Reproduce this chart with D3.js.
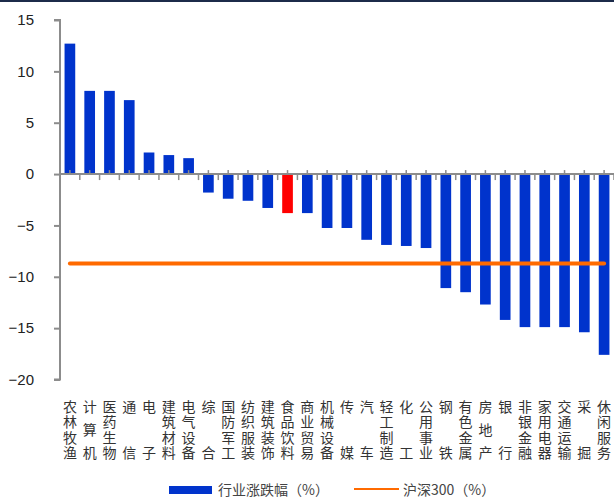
<!DOCTYPE html>
<html>
<head>
<meta charset="utf-8">
<script src="https://cdn.jsdelivr.net/npm/d3@7"></script>
<style>
  body { margin: 0; background: #fff; }
  svg { display: block; }
</style>
</head>
<body>
<div id="chart"></div>
<script>
const width = 614,
      height = 500;

// industry names and their change (%)
const industries = ["农林牧渔","计算机","医药生物","通信","电子","建筑材料","电气设备","综合",
  "国防军工","纺织服装","建筑装饰","食品饮料","商业贸易","机械设备","传媒","汽车","轻工制造",
  "化工","公用事业","钢铁","有色金属","房地产","银行","非银金融","家用电器","交通运输","采掘","休闲服务"];
const changes = [12.7, 8.1, 8.1, 7.2, 2.1, 1.85, 1.55, -1.8, -2.4, -2.6, -3.3, -3.8, -3.8, -5.25,
  -5.25, -6.4, -6.9, -7.0, -7.2, -11.1, -11.5, -12.7, -14.2, -14.9, -14.9, -14.9, -15.4, -17.6];
const hs300 = -8.7;
const highlight = "食品饮料";
const yTicks = [15, 10, 5, 0, -5, -10, -15, -20];
const legendLabels = ["行业涨跌幅（%）", "沪深300（%）"];

const margin = { top: 20, right: 0, bottom: 120, left: 60 };

var svg = d3.select('#chart').append('svg')
  .attr('width', width)
  .attr('height', height);

// top border
svg.append('rect')
  .attr('x', 0).attr('y', 0)
  .attr('width', width).attr('height', 2)
  .style('fill', '#1c2b4a');

const x = d3.scaleBand()
  .domain(industries)
  .range([margin.left, width])
  .paddingInner(0.46)
  .paddingOuter(0.23);

const y = d3.scaleLinear()
  .domain([-20, 15])
  .range([379.5, 20]);

// y axis
var yAxis = svg.append('g')
  .attr('transform', `translate(${margin.left},0)`)
  .call(d3.axisLeft(y).tickValues(yTicks).tickSize(6).tickPadding(20)
    .tickFormat(d => d < 0 ? '\u2212' + Math.abs(d) : d));
yAxis.select('.domain').attr('stroke', '#8c8c8c').attr('stroke-width', 2)
  .attr('d', `M-6,${y(15)}H0V${y(-20)}H-6`);
yAxis.selectAll('.tick line').attr('stroke', '#8c8c8c').attr('stroke-width', 2);
yAxis.selectAll('.tick text')
  .style('font-family', 'Liberation Sans, Arial, sans-serif')
  .style('font-size', '15px')
  .style('fill', '#222');

// bars
svg.append('g').selectAll('rect').data(industries)
  .enter().append('rect')
  .attr('x', d => x(d))
  .attr('width', x.bandwidth())
  .attr('y', (d, i) => y(Math.max(0, changes[i])))
  .attr('height', (d, i) => Math.abs(y(changes[i]) - y(0)))
  .style('fill', d => d === highlight ? '#ff0000' : '#0033cc');

// x axis line and ticks
const step = x.step();
const zeroY = y(0);
var xAxis = svg.append('g');
xAxis.append('line')
  .attr('x1', margin.left).attr('x2', width)
  .attr('y1', zeroY).attr('y2', zeroY)
  .attr('stroke', '#8c8c8c').attr('stroke-width', 2);
xAxis.selectAll('line.up').data(industries)
  .enter().append('line')
  .attr('class', 'up')
  .attr('x1', d => x(d) + x.bandwidth() / 2)
  .attr('x2', d => x(d) + x.bandwidth() / 2)
  .attr('y1', zeroY).attr('y2', zeroY - 4)
  .attr('stroke', '#8c8c8c').attr('stroke-width', 1.5);
xAxis.selectAll('line.down').data(industries)
  .enter().append('line')
  .attr('class', 'down')
  .attr('x1', (d, i) => margin.left + step * (i + 1))
  .attr('x2', (d, i) => margin.left + step * (i + 1))
  .attr('y1', zeroY).attr('y2', zeroY + 6)
  .attr('stroke', '#8c8c8c').attr('stroke-width', 1.5);

// hs300 line
const firstC = x(industries[0]) + x.bandwidth() / 2;
const lastC = x(industries[industries.length - 1]) + x.bandwidth() / 2;
svg.append('line')
  .attr('x1', firstC).attr('x2', lastC)
  .attr('y1', y(hs300)).attr('y2', y(hs300))
  .attr('stroke', '#ff6a00').attr('stroke-width', 4)
  .attr('stroke-linecap', 'round');

// vertical category labels: vertical writing, chars spread from top row to bottom row
const fontSize = 14, rowTop = 406.5, rowBottom = 453;
svg.append('g')
  .style('font-family', '"Noto Sans CJK SC", sans-serif')
  .style('font-size', fontSize + 'px')
  .style('fill', '#333')
  .selectAll('text').data(industries)
  .enter().append('text')
  .style('writing-mode', 'vertical-rl')
  .style('letter-spacing', d => {
    const n = Array.from(d).length;
    return n > 1 ? ((rowBottom - rowTop) / (n - 1) - fontSize) + 'px' : '0px';
  })
  .attr('text-anchor', 'start')
  .attr('x', d => x(d) + x.bandwidth() / 2)
  .attr('y', rowTop - fontSize / 2)
  .text(d => d);

// legend
var legend = svg.append('g')
  .style('font-family', '"Noto Sans CJK SC", sans-serif')
  .style('font-size', '14px')
  .style('fill', '#444');
legend.append('rect')
  .attr('x', 169).attr('y', 486)
  .attr('width', 43).attr('height', 8)
  .style('fill', '#0033cc');
legend.append('text')
  .attr('x', 218).attr('y', 495)
  .text(legendLabels[0]);
legend.append('line')
  .attr('x1', 354).attr('x2', 399)
  .attr('y1', 489).attr('y2', 489)
  .attr('stroke', '#ff6a00').attr('stroke-width', 2);
legend.append('text')
  .attr('x', 403).attr('y', 495)
  .text(legendLabels[1]);
</script>
</body>
</html>
